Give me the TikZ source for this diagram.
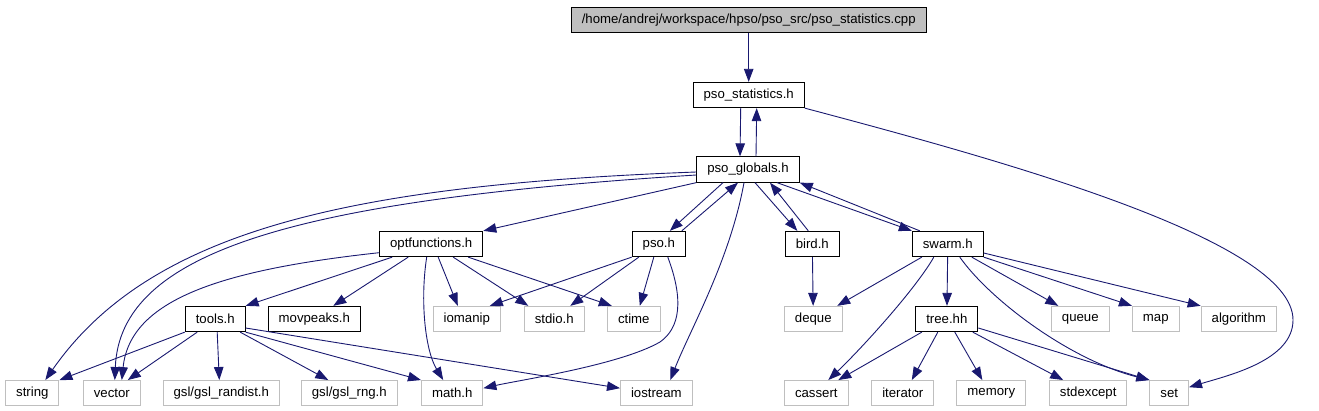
\documentclass[tikz,border=0pt]{standalone}
\usepackage{fontspec}
\setmainfont{Liberation Sans}
\usetikzlibrary{arrows.meta}
\definecolor{edgeblue}{HTML}{191970}
\definecolor{extgray}{HTML}{BFBFBF}

\begin{document}
\begin{tikzpicture}[
    x=1pt, y=-1pt,
    hdr/.style={rectangle, draw=black, line width=1pt, minimum height=25.3pt, inner xsep=10.5pt, inner ysep=0pt, font=\fontsize{13.2}{15}\selectfont},
    sys/.style={hdr, draw=extgray},
    src/.style={hdr, fill=extgray},
    dep/.style={-{Triangle[length=13pt, width=9.5pt]}, line width=0.9pt, draw=edgeblue},
]
\useasboundingbox (0,0) rectangle (1319,411);

\node[src] (cpp) at (748.7,19.7) {/home/andrej/workspace/hpso/pso\_src/pso\_statistics.cpp};
\node[hdr] (stats) at (748.7,95) {pso\_statistics.h};
\node[hdr] (glob) at (748,169.5) {pso\_globals.h};
\node[hdr] (optf) at (431.2,244) {optfunctions.h};
\node[hdr] (pso) at (658.8,244) {pso.h};
\node[hdr] (bird) at (812.3,244) {bird.h};
\node[hdr] (swarm) at (947.8,244) {swarm.h};
\node[hdr] (tools) at (215.2,319) {tools.h};
\node[hdr] (movpk) at (314.3,319) {movpeaks.h};
\node[sys] (iomanip) at (466.8,319) {iomanip};
\node[sys] (stdio) at (554.3,319) {stdio.h};
\node[sys] (ctime) at (633.8,319) {ctime};
\node[sys] (deque) at (813.3,319) {deque};
\node[hdr] (tree) at (946.8,319) {tree.hh};
\node[sys] (queue) at (1080.3,319) {queue};
\node[sys] (map) at (1155.8,319) {map};
\node[sys] (algo) at (1238.8,319) {algorithm};
\node[sys] (string) at (32.3,393.2) {string};
\node[sys] (vector) at (111.8,393.2) {vector};
\node[sys] (randist) at (221.3,393.2) {gsl/gsl\_randist.h};
\node[sys] (rng) at (349.3,393.2) {gsl/gsl\_rng.h};
\node[sys] (math) at (452.2,393.2) {math.h};
\node[sys] (iostream) at (656.3,393.2) {iostream};
\node[sys] (cassert) at (816.3,393.2) {cassert};
\node[sys] (iterator) at (902.8,393.2) {iterator};
\node[sys] (memory) at (991.3,393.2) {memory};
\node[sys] (stdexc) at (1088.2,393.2) {stdexcept};
\node[sys] (set) at (1169.2,393.2) {set};

\draw[dep] (cpp) -- (stats);
\draw[dep] ([xshift=-8pt]stats.south) -- ([xshift=-8pt]glob.north);
\draw[dep] ([xshift=8pt]glob.north) -- ([xshift=8pt]stats.south);
\draw[dep] (stats.south east) .. controls (1000,160) and (1293,240) .. (1293,320) .. controls (1293,360) and (1230,375) .. ([yshift=6pt]set.east);

\draw[dep] ([yshift=-2.5pt]glob.west) .. controls (350,185) and (150,230) .. ([xshift=13pt]string.north);
\draw[dep] ([yshift=-5.5pt]glob.west) .. controls (300,200) and (120,250) .. ([xshift=3pt]vector.north);
\draw[dep] (glob.south west) -- (optf.north east);
\draw[dep] ([xshift=-25pt]glob.south) -- ([xshift=11pt]pso.north);
\draw[dep] ([xshift=23pt]pso.north) -- ([xshift=-10pt]glob.south);
\draw[dep] ([xshift=7pt]glob.south) -- ([xshift=-15pt]bird.north);
\draw[dep] ([xshift=-4pt]bird.north) -- ([xshift=22pt]glob.south);
\draw[dep] ([xshift=29pt]glob.south) -- (swarm.north west);
\draw[dep] ([xshift=-28pt]swarm.north) -- (glob.south east);
\draw[dep] ([xshift=-4pt]glob.south) .. controls (730,260) and (690,330) .. ([xshift=14pt]iostream.north);

\draw[dep] ([xshift=-39pt]optf.south) -- (tools.north east);
\draw[dep] ([xshift=-23pt]optf.south) -- ([xshift=19pt]movpk.north);
\draw[dep] ([yshift=-8.7pt]optf.west) .. controls (220,270) and (130,300) .. ([xshift=10pt]vector.north);
\draw[dep] ([xshift=-4.5pt]optf.south) .. controls (420,300) and (425,350) .. ([xshift=-9pt]math.north);
\draw[dep] ([xshift=7pt]optf.south) -- ([xshift=-9pt]iomanip.north);
\draw[dep] ([xshift=22pt]optf.south) -- ([xshift=-26pt]stdio.north);
\draw[dep] ([xshift=37pt]optf.south) -- ([xshift=-22pt]ctime.north);

\draw[dep] (pso.south west) -- ([xshift=23pt]iomanip.north);
\draw[dep] ([xshift=-20pt]pso.south) -- ([xshift=16pt]stdio.north);
\draw[dep] ([xshift=-5pt]pso.south) -- ([xshift=6pt]ctime.north);
\draw[dep] ([xshift=9pt]pso.south) .. controls (684,300) and (680,328) .. (660,342) .. controls (620,365) and (520,380) .. ([yshift=5pt]math.east);

\draw[dep] (bird) -- (deque);

\draw[dep] ([xshift=-26pt]swarm.south) -- ([xshift=24pt]deque.north);
\draw[dep] ([xshift=-14pt]swarm.south) .. controls (915,290) and (860,350) .. ([xshift=12pt]cassert.north);
\draw[dep] (swarm) -- (tree);
\draw[dep] ([xshift=12pt]swarm.south) .. controls (990,300) and (1070,360) .. (set.north west);
\draw[dep] ([xshift=24pt]swarm.south) -- ([xshift=-22pt]queue.north);
\draw[dep] (swarm.south east) -- (map.north west);
\draw[dep] ([yshift=-9pt]swarm.east) -- (algo.north west);

\draw[dep] ([xshift=-25pt]tree.south) -- ([xshift=22pt]cassert.north);
\draw[dep] ([xshift=-9pt]tree.south) -- ([xshift=9pt]iterator.north);
\draw[dep] ([xshift=8pt]tree.south) -- ([xshift=-9pt]memory.north);
\draw[dep] ([xshift=26pt]tree.south) -- ([xshift=-25pt]stdexc.north);
\draw[dep] ([yshift=-9pt]tree.east) -- (set.north west);

\draw[dep] (tools.south west) -- (string.north east);
\draw[dep] ([xshift=-18pt]tools.south) -- ([xshift=16pt]vector.north);
\draw[dep] ([xshift=2pt]tools.south) -- ([xshift=-2pt]randist.north);
\draw[dep] ([xshift=25pt]tools.south) -- ([xshift=-21pt]rng.north);
\draw[dep] (tools.south east) -- (math.north west);
\draw[dep] ([yshift=-9pt]tools.east) -- ([yshift=5pt]iostream.west);
\end{tikzpicture}
\end{document}
